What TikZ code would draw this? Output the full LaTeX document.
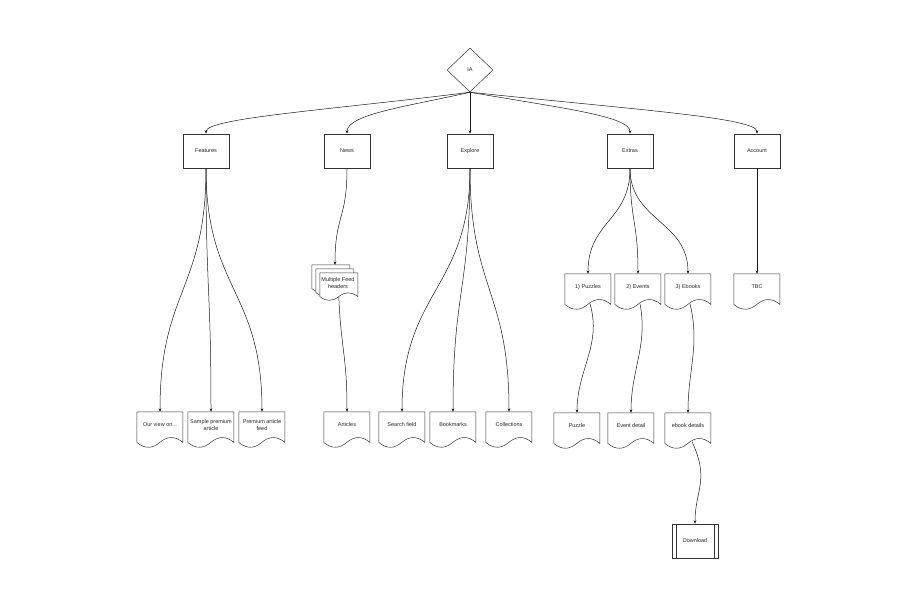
\documentclass[tikz,border=0pt]{standalone}
\usepackage{fontspec}
\setmainfont{Liberation Sans}
\usetikzlibrary{arrows.meta,calc,shapes.geometric}
\pgfdeclarelayer{bg}
\pgfsetlayers{bg,main}
\tikzset{
  every node/.style={font=\fontsize{5.5}{6.8}\selectfont, text=black!85},
  shapeline/.style={draw=black!80, line width=0.5pt},
  box/.style={shapeline, minimum width=46pt, minimum height=34pt, inner sep=0pt},
  diam/.style={shapeline, diamond, minimum width=46pt, minimum height=44pt, inner sep=0pt},
  doc/.style={minimum width=46pt, minimum height=36pt, inner sep=0pt},
  dl/.style={yshift=5pt, align=center, inner sep=0pt},
  conn/.style={draw=black!90, line width=0.5pt, -{Stealth[length=3.5pt,width=2.8pt]}},
}
% #1 options, #2 north-west coordinate, #3 width, #4 height
\newcommand\docshape[4][]{%
  \draw[shapeline,#1] (#2) -- ($(#2)+(#3,0)$) -- ($(#2)+(#3,0.85*#4)$)
    .. controls ($(#2)+(5/6*#3,0.67*#4)$) and ($(#2)+(2/3*#3,0.67*#4)$) .. ($(#2)+(0.5*#3,0.85*#4)$)
    .. controls ($(#2)+(1/3*#3,1.03*#4)$) and ($(#2)+(1/6*#3,1.03*#4)$) .. ($(#2)+(0,0.85*#4)$) -- cycle;}
\begin{document}
\begin{tikzpicture}[x=1pt,y=-1pt]
\useasboundingbox (0,0) rectangle (920,612);

% root
\node[diam] (ia) at (470,70) {IA};

% level 1
\node[box] (feat) at (206,151) {Features};
\node[box] (news) at (347,151) {News};
\node[box] (expl) at (470,151) {Explore};
\node[box] (extr) at (630,151) {Extras};
\node[box] (acct) at (757,151) {Account};

% documents
\node[doc, label={[dl]center:Our view on...}] (ov) at (160,430) {};
\node[doc, label={[dl]center:{Sample premium\\article}}] (samp) at (211,430) {};
\node[doc, label={[dl]center:{Premium article\\feed}}] (prem) at (262,430) {};
\node[doc, label={[dl]center:Articles}] (art) at (347,430) {};
\node[doc, label={[dl]center:Search field}] (srch) at (402,430) {};
\node[doc, label={[dl]center:Bookmarks}] (bkm) at (453,430) {};
\node[doc, label={[dl]center:Collections}] (coll) at (509,430) {};
\node[doc, label={[dl]center:Puzzle}] (puz) at (577,431) {};
\node[doc, label={[dl]center:Event detail}] (evd) at (631,431) {};
\node[doc, label={[dl]center:ebook details}] (ebd) at (688,431) {};

\node[doc, label={[dl]center:1) Puzzles}] (pzs) at (588,292) {};
\node[doc, label={[dl]center:2) Events}] (evs) at (638,292) {};
\node[doc, label={[dl]center:3) Ebooks}] (ebs) at (688,292) {};
\node[doc, label={[dl]center:TBC}] (tbc) at (757,292) {};

% multiple documents
\node[doc, label={[dl, yshift=-5pt, xshift=3pt]center:{Multiple Feed\\headers}}] (mfh) at (335,283) {};
\coordinate (mfhb) at ($(mfh.north west)+(4,4)$);
\coordinate (mfhc) at ($(mfh.north west)+(8,8)$);

% download (process)
\node[box] (dl) at (695,541) {Download};
\draw[shapeline] ($(dl.north west)+(4.5,0)$) -- ($(dl.south west)+(4.5,0)$);
\draw[shapeline] ($(dl.north east)+(-4.5,0)$) -- ($(dl.south east)+(-4.5,0)$);

\begin{pgfonlayer}{bg}
  \fill[white] (0,0) rectangle (920,612);
  \foreach \n in {ov,samp,prem,art,srch,bkm,coll,puz,evd,ebd,pzs,evs,ebs,tbc}{
    \docshape{\n.north west}{46}{36}
  }
  \docshape[fill=white]{mfh.north west}{38}{28}
  \docshape[fill=white]{mfhb}{38}{28}
  \docshape[fill=white]{mfhc}{38}{28}
\end{pgfonlayer}

% connectors from IA
\draw[conn] (ia.south) .. controls (330,110) and (206,118) .. (feat.north);
\draw[conn] (ia.south) .. controls (410,106) and (347,114) .. (news.north);
\draw[conn] (ia.south) -- (expl.north);
\draw[conn] (ia.south) .. controls (560,108) and (630,116) .. (extr.north);
\draw[conn] (ia.south) .. controls (640,110) and (757,118) .. (acct.north);

% features
\draw[conn] (feat.south) .. controls (206,290) and (160,290) .. (ov.north);
\draw[conn] (feat.south) .. controls (206,290) and (211,290) .. (samp.north);
\draw[conn] (feat.south) .. controls (206,290) and (262,290) .. (prem.north);

% news
\draw[conn] (news.south) .. controls (347,220) and (335,215) .. (mfh.north);
\draw[conn] ($(mfhc.north)+(19,24)$) .. controls (341,350) and (347,355) .. (art.north);

% explore
\draw[conn] (expl.south) .. controls (470,290) and (402,290) .. (srch.north);
\draw[conn] (expl.south) .. controls (470,290) and (453,290) .. (bkm.north);
\draw[conn] (expl.south) .. controls (470,290) and (509,290) .. (coll.north);

% extras
\draw[conn] (extr.south) .. controls (630,221) and (588,221) .. (pzs.north);
\draw[conn] (extr.south) .. controls (630,221) and (638,221) .. (evs.north);
\draw[conn] (extr.south) .. controls (630,221) and (688,221) .. (ebs.north);
\draw[conn] ($(pzs.north)+(2,30)$) .. controls (602,345) and (577,370) .. (puz.north);
\draw[conn] ($(evs.north)+(2,30)$) .. controls (648,345) and (631,370) .. (evd.north);
\draw[conn] ($(ebs.north)+(2,30)$) .. controls (700,345) and (688,370) .. (ebd.north);
\draw[conn] ($(ebd.north)+(4,29)$) .. controls (710,480) and (695,490) .. (dl.north);

% account
\draw[conn] (acct.south) -- (tbc.north);
\end{tikzpicture}
\end{document}
